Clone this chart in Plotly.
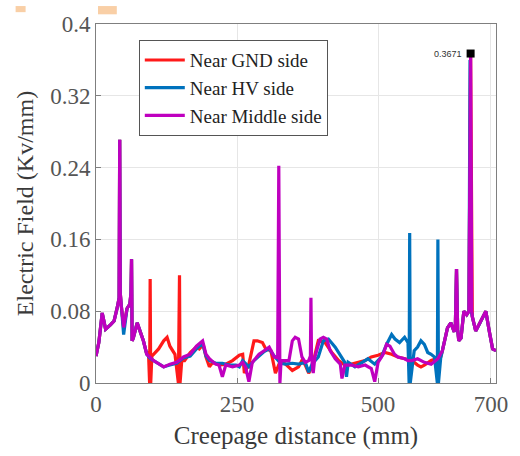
import plotly.graph_objects as go

# ---------------- data ----------------
mid_x = [0, 5, 11, 17, 26, 32, 38, 41, 42, 43, 45, 49, 55, 60, 62, 63, 64, 66, 73, 78, 84, 90,
         102, 120, 131, 143, 155, 167, 178, 189, 195, 201, 212, 218, 224, 230, 242, 254, 260, 265,
         271, 277, 289, 298, 307, 316, 322, 324, 325, 326, 328, 333, 342, 348, 353, 359, 365, 371,
         377, 380, 381, 382, 385, 388, 397, 403, 409, 415, 424, 433, 436, 441, 453, 465, 477, 488,
         494, 500, 509, 515, 521, 529, 535, 547, 553, 560, 570, 582, 594, 606, 614, 623, 629, 635,
         637, 639, 641, 643, 647, 652, 657, 661, 664, 666, 667, 673, 679, 685, 691, 697, 703, 709]
mid_y = [0.030, 0.045, 0.078, 0.060, 0.065, 0.069, 0.085, 0.095, 0.271, 0.100, 0.085, 0.062, 0.083,
         0.088, 0.100, 0.138, 0.047, 0.050, 0.067, 0.058, 0.047, 0.032,
         0.025, 0.018, 0.021, 0.023, 0.029, 0.032, 0.041, 0.047, 0.032, 0.027, 0.021, 0.020, 0.007,
         0.020, 0.018, 0.020, 0.023, 0.018,
         0.0015, 0.023, 0.032, 0.036, 0.040, 0.029, 0.028, 0.242, 0.120, 0.000, 0.025, 0.025, 0.025,
         0.047, 0.051, 0.049, 0.029, 0.023,
         0.025, 0.030, 0.095, 0.030, 0.011, 0.029, 0.049, 0.051, 0.049, 0.036, 0.027, 0.021, 0.005,
         0.020, 0.020, 0.018, 0.020, 0.016,
         0.0015, 0.023, 0.032, 0.043, 0.041, 0.032, 0.029, 0.027, 0.025, 0.025, 0.027, 0.023, 0.021,
         0.027, 0.036, 0.0615, 0.067, 0.057,
         0.065, 0.127, 0.060, 0.047, 0.050, 0.080, 0.076, 0.080, 0.3671, 0.080, 0.074, 0.058, 0.065,
         0.072, 0.080, 0.058, 0.038, 0.036]

gnd_x = [0, 5, 11, 17, 26, 32, 38, 41, 42, 43, 45, 49, 55, 60, 62, 63, 64, 66, 73, 78, 84, 90,
         93, 95, 96, 97, 99, 102, 111, 120, 126, 131, 140, 146, 147, 148, 149, 152, 157, 167, 178,
         183, 190, 195, 201, 207, 218, 230, 242, 254, 260, 263, 271, 280, 286, 295, 301, 310, 318,
         327, 336, 348, 359, 365, 371, 377, 383, 394, 406, 418, 430, 441, 453, 465, 477, 488, 500,
         512, 524, 535, 547, 560, 570, 576, 582, 594, 603, 611, 614, 623, 629, 635, 637, 639, 641,
         643, 647, 652, 657, 661, 664, 666, 667, 673, 679, 685, 691, 697, 703, 709]
gnd_y = [0.030, 0.045, 0.078, 0.060, 0.065, 0.069, 0.085, 0.095, 0.271, 0.100, 0.085, 0.062, 0.083,
         0.088, 0.100, 0.138, 0.047, 0.050, 0.067, 0.058, 0.047, 0.032,
         0.035, 0.000, 0.116, 0.000, 0.030, 0.032, 0.038, 0.047, 0.051, 0.041, 0.032, 0.000, 0.120,
         0.120, 0.000, 0.025, 0.025, 0.034, 0.040,
         0.038, 0.043, 0.029, 0.018, 0.023, 0.020, 0.021, 0.025, 0.031, 0.032, 0.011, 0.021, 0.047,
         0.047, 0.045, 0.038, 0.036, 0.011,
         0.025, 0.021, 0.014, 0.018, 0.025, 0.020, 0.011, 0.018, 0.047, 0.045, 0.034, 0.025, 0.020,
         0.021, 0.023, 0.025, 0.029, 0.031,
         0.034, 0.032, 0.029, 0.027, 0.025, 0.020, 0.018, 0.020, 0.025, 0.027, 0.029, 0.036, 0.0615,
         0.067, 0.057, 0.065, 0.127, 0.060,
         0.047, 0.050, 0.080, 0.076, 0.080, 0.3671, 0.080, 0.074, 0.058, 0.065, 0.072, 0.080, 0.058,
         0.038, 0.036]

hv_x = [0, 5, 11, 17, 26, 32, 38, 41, 42, 43, 45, 49, 55, 60, 62, 63, 64, 66, 73, 78, 84, 90,
        95, 102, 120, 131, 143, 155, 167, 178, 189, 195, 201, 212, 224, 236, 248, 254, 260, 271,
        280, 289, 298, 307, 316, 327, 336, 348, 359, 371, 377, 383, 394, 403, 412, 424, 436, 441,
        444, 447, 459, 471, 482, 494, 506, 515, 524, 530, 538, 547, 553, 555, 556, 557, 564, 570,
        576, 582, 588, 594, 600, 605, 606, 607, 611, 614, 623, 629, 635, 637, 639, 641, 643, 647,
        652, 657, 661, 663, 665, 667, 673, 679, 685, 691, 697, 703, 709]
hv_y = [0.030, 0.045, 0.078, 0.060, 0.065, 0.069, 0.085, 0.095, 0.271, 0.100, 0.085, 0.054, 0.083,
        0.088, 0.100, 0.138, 0.047, 0.050, 0.067, 0.058, 0.047, 0.032,
        0.028, 0.025, 0.018, 0.020, 0.022, 0.028, 0.030, 0.038, 0.044, 0.030, 0.025, 0.022, 0.022,
        0.020, 0.020, 0.018, 0.025, 0.018,
        0.025, 0.030, 0.035, 0.038, 0.030, 0.022, 0.021, 0.022, 0.021, 0.023, 0.012, 0.021, 0.029,
        0.047, 0.049, 0.040, 0.029, 0.023,
        0.007, 0.023, 0.018, 0.023, 0.027, 0.021, 0.029, 0.043, 0.054, 0.049, 0.045, 0.051, 0.045,
        0.000, 0.167, 0.000, 0.036, 0.040,
        0.047, 0.043, 0.034, 0.032, 0.029, 0.000, 0.160, 0.000, 0.028, 0.036, 0.0615, 0.067, 0.057,
        0.065, 0.127, 0.060, 0.047, 0.050,
        0.080, 0.076, 0.080, 0.360, 0.080, 0.074, 0.058, 0.065, 0.072, 0.080, 0.058, 0.038, 0.036]

peak_x = [664]
peak_y = [0.3671]
peak_label = "0.3671"

x_ticks = [0, 250, 500, 700]
y_ticks = [0, 0.08, 0.16, 0.24, 0.32, 0.4]
y_ticktext = ["0", "0.08", "0.16", "0.24", "0.32", "0.4"]

names = ["Near GND side", "Near HV side", "Near Middle side"]
colors = ["#ff1a1a", "#0072bd", "#bf00bf"]

# ---------------- figure ----------------
SERIF = "Liberation Serif"
fig = go.Figure()
for xs, ys, nm, col in [(gnd_x, gnd_y, names[0], colors[0]),
                        (hv_x, hv_y, names[1], colors[1]),
                        (mid_x, mid_y, names[2], colors[2])]:
    fig.add_trace(go.Scatter(x=xs, y=ys, mode="lines", name=nm,
                             line=dict(color=col, width=3.2)))

fig.add_trace(go.Scatter(x=peak_x, y=peak_y, mode="markers", showlegend=False,
                         marker=dict(symbol="square", color="black", size=8)))
fig.add_annotation(x=peak_x[0], y=peak_y[0], text=peak_label, showarrow=False,
                   xanchor="right", yanchor="middle", xshift=-7,
                   font=dict(family="Liberation Sans", size=9, color="#333333"))

# faint orange remnants at the top edge of the reference image
for x0, x1, y0 in [(-0.201, -0.176, 1.033), (0.005, 0.052, 1.027)]:
    fig.add_shape(type="rect", xref="paper", yref="paper", x0=x0, x1=x1, y0=y0, y1=1.05,
                  fillcolor="#f9cfa6", line=dict(width=0), layer="above")

axis_common = dict(showline=True, mirror=True, linecolor="#7f7f7f", linewidth=1,
                   ticks="inside", ticklen=5, tickcolor="#7f7f7f",
                   showgrid=True, gridcolor="#e6e6e6", gridwidth=1, zeroline=False,
                   tickfont=dict(family=SERIF, size=23, color="#555555"))

fig.update_layout(
    width=520, height=456,
    margin=dict(l=96, r=21, t=17, b=73),
    paper_bgcolor="white", plot_bgcolor="white",
    font=dict(family=SERIF, color="#333333"),
    xaxis=dict(range=[0, 709], tickvals=x_ticks,
               title=dict(text="Creepage distance (mm)",
                          font=dict(family=SERIF, size=25, color="#3a3a3a"), standoff=10),
               **axis_common),
    yaxis=dict(range=[0, 0.4], tickvals=y_ticks, ticktext=y_ticktext,
               title=dict(text="Electric Field (Kv/mm)",
                          font=dict(family=SERIF, size=24, color="#3a3a3a"), standoff=9),
               **axis_common),
    legend=dict(x=0.107, y=0.955, xanchor="left", yanchor="top",
                bgcolor="white", bordercolor="#555555", borderwidth=1,
                font=dict(family=SERIF, size=19, color="#222222"),
                tracegroupgap=0, itemwidth=40),
    showlegend=True,
)

fig.write_html("out.html")
